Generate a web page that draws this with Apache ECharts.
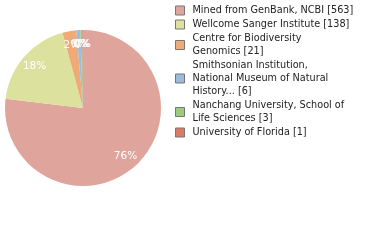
<!DOCTYPE html>
<html><head><meta charset="utf-8">
<script src="https://cdn.jsdelivr.net/npm/echarts@6/dist/echarts.min.js"></script>
<style>html,body{margin:0;padding:0;background:#fff}#c{width:380px;height:240px}</style>
</head><body><div id="c"></div>
<script>
const names = ["Mined from GenBank, NCBI","Wellcome Sanger Institute","Centre for Biodiversity Genomics","Smithsonian Institution, National Museum of Natural History...","Nanchang University, School of Life Sciences","University of Florida"];
const legendLabels = ["Mined from GenBank, NCBI [563]","Wellcome Sanger Institute [138]","Centre for Biodiversity\nGenomics [21]","Smithsonian Institution,\nNational Museum of Natural\nHistory... [6]","Nanchang University, School of\nLife Sciences [3]","University of Florida [1]"];
const values = [563,138,21,6,3,1];
const colors = ["#dfa59c","#dde19e","#eeab78","#9cbcdc","#9dcb7a","#dd7a66"];
const total = values.reduce((a,b)=>a+b,0);
const data = names.map((n,i)=>({name:n,value:values[i],itemStyle:{color:colors[i]}}));
const chart = echarts.init(document.getElementById('c'),null,{renderer:'canvas'});
const font = 'DejaVu Sans';
chart.setOption({
  animation:false,
  legend:{orient:'vertical',left:170,top:-1,itemWidth:9,itemHeight:9,itemGap:1,icon:'rect',
    itemStyle:{borderColor:'#777',borderWidth:1},
    textStyle:{fontFamily:font,fontSize:9.7,color:'#222',lineHeight:13,padding:[0,0,0,3]},
    formatter:n=>legendLabels[names.indexOf(n)],data:names},
  series:[
    {type:'pie',center:[83,108],radius:[0,78],startAngle:90,clockwise:true,data:data,
     label:{show:false},labelLine:{show:false},silent:true},
    {type:'pie',center:[83,108],radius:[44,78],startAngle:90,clockwise:true,
     data:names.map((n,i)=>({name:n,value:values[i],itemStyle:{color:'rgba(0,0,0,0)'}})),
     legendHoverLink:false,silent:true,
     label:{show:true,position:'inside',color:'#fff',fontFamily:font,fontSize:10.5,
       formatter:p=>Math.floor(p.value/total*100)+'%'},
     labelLine:{show:false},labelLayout:{hideOverlap:false}}
  ]
});
</script></body></html>
